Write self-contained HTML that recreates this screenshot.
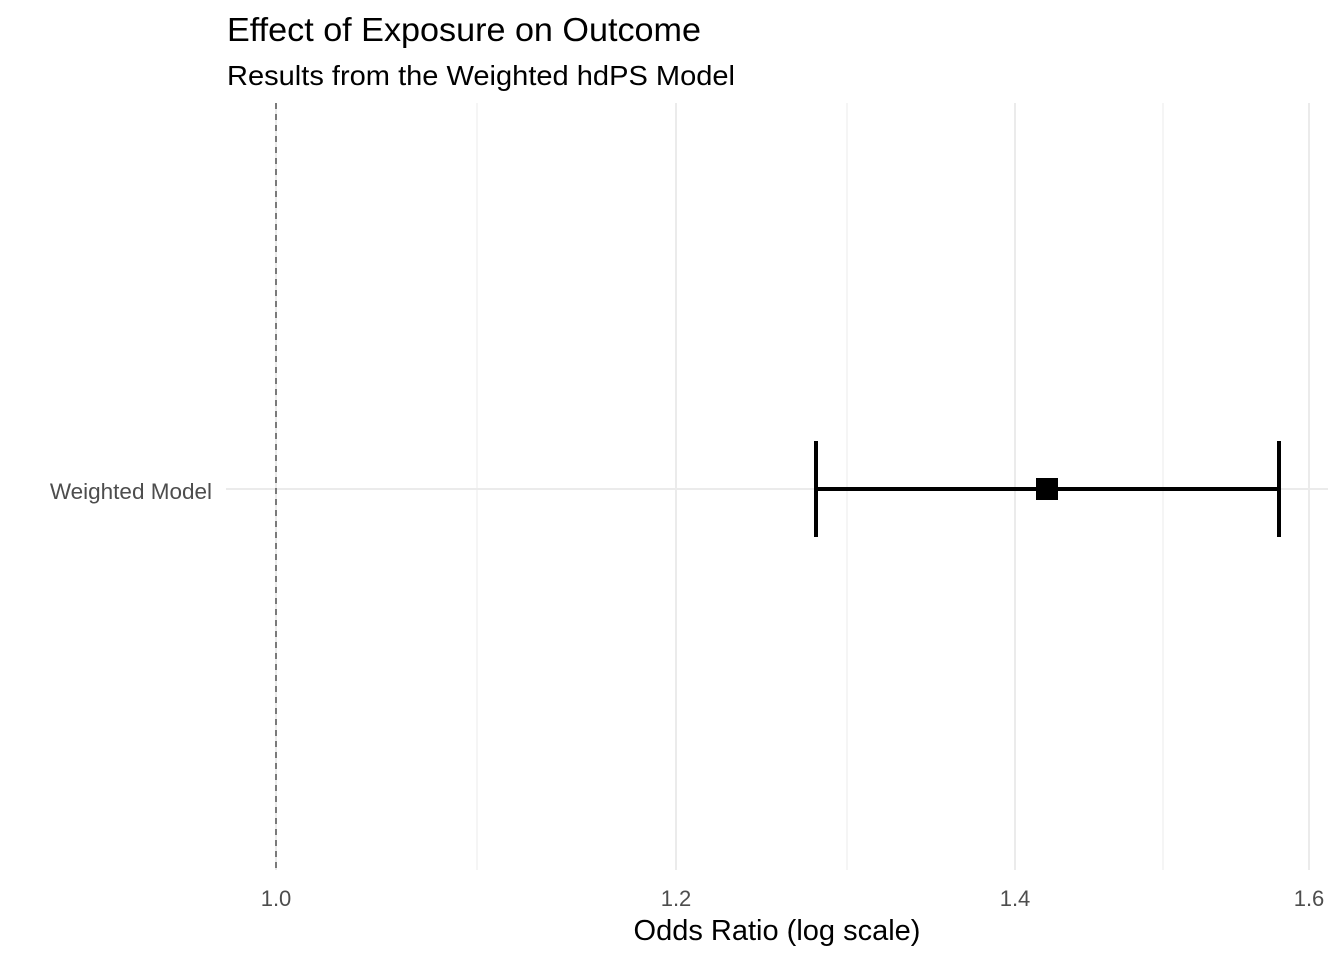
<!DOCTYPE html>
<html><head><style>html,body{margin:0;padding:0;background:#fff}</style></head>
<body>
<svg width="1344" height="960" xmlns="http://www.w3.org/2000/svg" font-family="Liberation Sans, Arial, sans-serif">
<rect width="1344" height="960" fill="#fff"/>
<g stroke="#ebebeb" stroke-width="1">
<line x1="477" y1="103" x2="477" y2="870"/>
<line x1="847" y1="103" x2="847" y2="870"/>
<line x1="1163" y1="103" x2="1163" y2="870"/>
</g>
<g stroke="#ebebeb" stroke-width="2">
<line x1="276" y1="103" x2="276" y2="870"/>
<line x1="676" y1="103" x2="676" y2="870"/>
<line x1="1015" y1="103" x2="1015" y2="870"/>
<line x1="1309" y1="103" x2="1309" y2="870"/>
<line x1="226" y1="489" x2="1328" y2="489"/>
</g>
<line x1="276" y1="103" x2="276" y2="870" stroke="#555" stroke-width="1.5" stroke-dasharray="6,5"/>
<g stroke="#000" stroke-width="4">
<line x1="816" y1="489" x2="1279" y2="489"/>
<line x1="816" y1="441" x2="816" y2="537"/>
<line x1="1279" y1="441" x2="1279" y2="537"/>
</g>
<rect x="1036" y="478" width="22" height="22" fill="#000"/>
<text x="227" y="41" font-size="33" textLength="474" lengthAdjust="spacingAndGlyphs" fill="#000">Effect of Exposure on Outcome</text>
<text x="227" y="85" font-size="28" textLength="508" lengthAdjust="spacingAndGlyphs" fill="#000">Results from the Weighted hdPS Model</text>
<text x="212" y="499" font-size="22.5" text-anchor="end" fill="#4d4d4d">Weighted Model</text>
<g font-size="22" fill="#4d4d4d" text-anchor="middle">
<text x="276" y="906">1.0</text>
<text x="676" y="906">1.2</text>
<text x="1015" y="906">1.4</text>
<text x="1309" y="906">1.6</text>
</g>
<text x="777" y="940" font-size="29" text-anchor="middle" fill="#000">Odds Ratio (log scale)</text>
</svg>
</body></html>
